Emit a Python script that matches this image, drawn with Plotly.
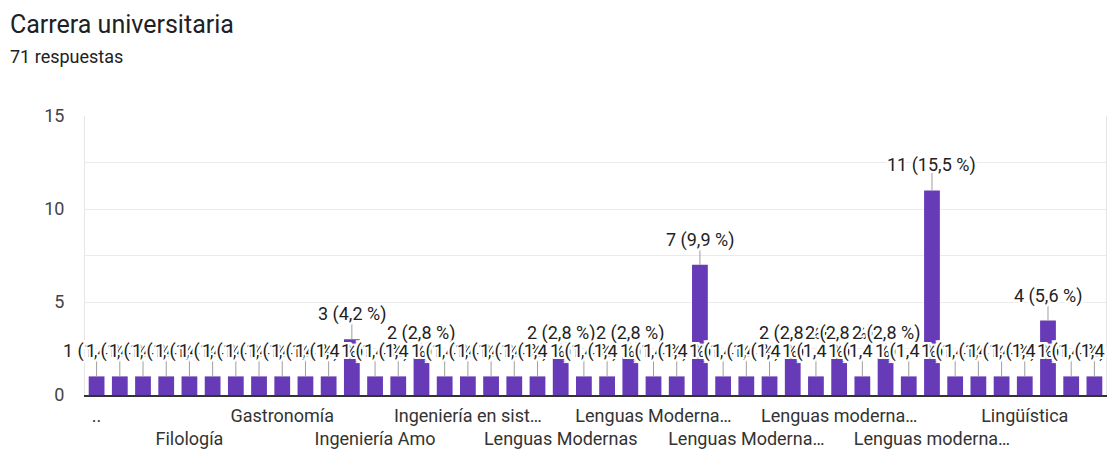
import plotly.graph_objects as go

# ---- data ----
categories = [
    "..", "Administración", "Antropología", "Comunicación",
    "Filología", "Filología Hispánica", "Filología inglesa", "Filosofía",
    "Gastronomía", "Historia", "Ingeniería", "Ingeniería Agronómica",
    "Ingeniería Amo", "Ingeniería Civil", "Ingeniería en Sistemas", "Ingeniería en informática",
    "Ingeniería en sistemas computacionales", "Ingeniería industrial", "Letras", "Lenguas Extranjeras",
    "Lenguas Modernas", "Lenguas Modernas (Inglés)", "Lenguas Modernas Aplicadas", "Lenguas Modernas y Cultura",
    "Lenguas Modernas con énfasis en traducción", "Lenguas Modernas e Interculturalidad", "Lenguas Modernas en Inglés", "Lenguas Modernas y Gestión",
    "Lenguas Modernas y Turismo", "Lenguas extranjeras aplicadas", "Lenguas modernas", "Lenguas modernas (francés)",
    "Lenguas modernas aplicadas a la traducción", "Lenguas modernas e inglés", "Lenguas modernas en francés", "Lenguas modernas y gestión",
    "Lenguas modernas y turismo", "Licenciatura en Idiomas", "Licenciatura en Inglés", "Licenciatura en Letras",
    "Lingüística", "Lingüística aplicada", "Matemáticas", "Traducción",
]
counts = [
    1, 1, 1, 1, 1, 1, 1, 1, 1, 1, 1, 3,
    1, 1, 2, 1, 1, 1, 1, 1, 2, 1, 1, 2,
    1, 1, 7, 1, 1, 1, 2, 1, 2, 1, 2, 1,
    11, 1, 1, 1, 1, 4, 1, 1,
]
tick_labels = [
    "..", "Filología", "Gastronomía", "Ingeniería Amo", "Ingeniería en sist…",
    "Lenguas Modernas", "Lenguas Moderna…", "Lenguas Moderna…", "Lenguas moderna…",
    "Lenguas moderna…", "Lingüística",
]
y_ticks = [0, 5, 10, 15]

title_text = "Carrera universitaria"
subtitle_text = "71 respuestas"

total = sum(counts)
FONT = "Roboto, Arial, sans-serif"
PURPLE = "#673ab7"

fig = go.Figure(go.Bar(
    x=categories, y=counts,
    marker=dict(color=PURPLE, line=dict(width=0)),
    hoverinfo="skip",
))

halo = ", ".join(f"{dx}px {dy}px 0 #fff" for dx, dy in
                 [(-2, 0), (2, 0), (0, -2), (0, 2), (-2, -2), (2, -2), (-2, 2), (2, 2),
                  (-1, -2), (1, -2), (-1, 2), (1, 2)])

shapes = []
annotations = []
for cat, c in zip(categories, counts):
    pct = f"{c / total * 100:.1f}".replace(".", ",")
    # leader line from bar top upward (pixel length)
    shapes.append(dict(
        type="line", xref="x", yref="y", x0=cat, x1=cat,
        ysizemode="pixel", yanchor=c, y0=0, y1=19,
        line=dict(color="#9e9e9e", width=1), layer="above",
    ))
    annotations.append(dict(
        x=cat, y=c, xref="x", yref="y",
        text=f"{c} ({pct} %)",
        showarrow=False, xanchor="center", yanchor="bottom", yshift=13,
        font=dict(family=FONT, size=18, color="#222222", shadow=halo),
        borderpad=0,
    ))

L, R, T, B = 85, 2, 116, 55
W, H = 1108, 450
ph = H - T - B
pw = W - L - R

annotations.append(dict(
    text=title_text, xref="paper", yref="paper",
    x=(8 - L) / pw, y=(H - B - 24) / ph, xanchor="left", yanchor="middle",
    showarrow=False, font=dict(family=FONT, size=25, color="#202124"),
))
annotations.append(dict(
    text=subtitle_text, xref="paper", yref="paper",
    x=(8 - L) / pw, y=(H - B - 57) / ph, xanchor="left", yanchor="middle",
    showarrow=False, font=dict(family=FONT, size=18, color="#202124"),
))

ticktext = [("<br>" + t) if i % 2 else t for i, t in enumerate(tick_labels)]

fig.update_layout(
    width=W, height=H, autosize=False,
    margin=dict(l=L, r=R, t=T, b=B, pad=0),
    paper_bgcolor="white", plot_bgcolor="white",
    bargap=0.32, showlegend=False,
    annotations=annotations, shapes=shapes,
    font=dict(family=FONT),
    xaxis=dict(
        type="category", range=[-0.5, len(categories) - 0.5], autorange=False,
        automargin=False,
        tickmode="array", tickvals=categories[::4], ticktext=ticktext,
        tickangle=0,
        tickfont=dict(family=FONT, size=18, color="#333333"),
        showline=True, linecolor="#333333", linewidth=2,
        showgrid=False, ticks="", ticklabelstandoff=3,
    ),
    yaxis=dict(
        range=[0, 15], tickmode="array", tickvals=y_ticks, automargin=False,
        tickfont=dict(family=FONT, size=18, color="#444444"),
        showgrid=True, gridcolor="#ebebeb", gridwidth=1,
        minor=dict(dtick=2.5, showgrid=True, gridcolor="#ebebeb", gridwidth=1),
        zeroline=False,
        showline=True, mirror=True, linecolor="#e6e6e6", linewidth=1,
        ticks="", ticklabelstandoff=16,
    ),
)

fig.write_html("out.html", config={"displayModeBar": False},
               post_script="document.body.style.margin='0';")
